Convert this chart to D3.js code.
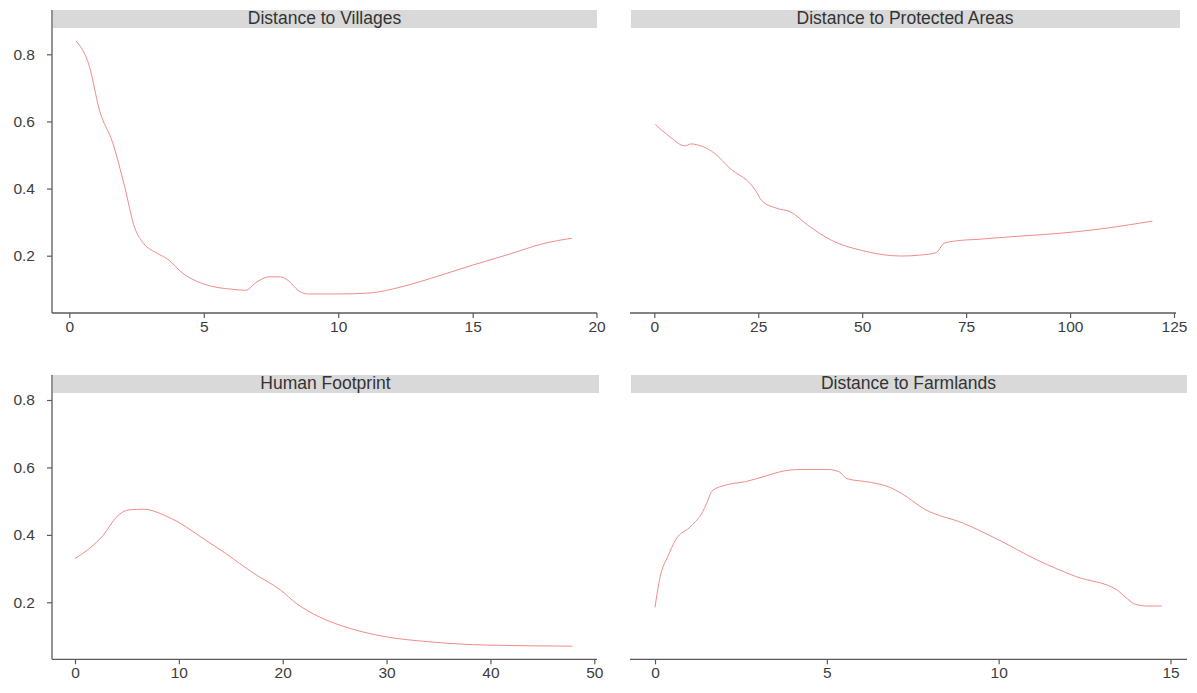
<!DOCTYPE html>
<html><head><meta charset="utf-8">
<script src="https://cdn.jsdelivr.net/npm/d3@7"></script>
<style>body{margin:0;background:#fff}svg{display:block}</style>
</head><body><svg id="c" width="1197" height="693"></svg>
<script>
// ---------- DATA ----------
const panelTitles = ["Distance to Villages", "Distance to Protected Areas", "Human Footprint", "Distance to Farmlands"];

const villagesX = [0.25, 0.75, 1.12, 1.62, 2.06, 2.42, 2.78, 3.2, 3.65, 4.23, 4.95, 6.11, 6.55, 6.98, 7.42, 7.85, 8.2, 8.5, 8.86, 10.02, 11.18, 12.34, 13.78, 15.0, 16.37, 17.96, 19.0];
const villagesY = [0.84, 0.763, 0.634, 0.535, 0.405, 0.286, 0.235, 0.21, 0.19, 0.147, 0.117, 0.0995, 0.097, 0.122, 0.137, 0.137, 0.122, 0.097, 0.086, 0.086, 0.089, 0.107, 0.141, 0.172, 0.202, 0.238, 0.252];

const protectedX = [0.26, 3.25, 7.46, 8.68, 11.67, 14.48, 18.2, 23.4, 24.8, 25.7, 29.5, 32.7, 36.9, 42.6, 50.1, 59.4, 64.1, 67.8, 69.7, 72.5, 78.1, 87.5, 96.8, 106.2, 119.8];
const protectedY = [0.591, 0.559, 0.527, 0.533, 0.525, 0.505, 0.46, 0.41, 0.386, 0.366, 0.341, 0.331, 0.291, 0.246, 0.215, 0.199, 0.202, 0.209, 0.237, 0.244, 0.249, 0.258, 0.266, 0.278, 0.303];

const footprintX = [0, 1.4, 2.72, 4.03, 5.16, 6.66, 8.54, 10.04, 12.3, 14.5, 17.2, 19.8, 21.3, 23.5, 26.55, 29.9, 34.06, 39.7, 47.9];
const footprintY = [0.33, 0.36, 0.399, 0.454, 0.474, 0.476, 0.459, 0.436, 0.39, 0.345, 0.286, 0.236, 0.197, 0.157, 0.122, 0.098, 0.083, 0.073, 0.07];

const farmX = [0, 0.15, 0.37, 0.6, 1.05, 1.39, 1.5, 1.67, 2.07, 2.64, 3.2, 3.77, 4.22, 5.02, 5.36, 5.58, 6.26, 6.83, 7.17, 7.85, 8.98, 10.0, 11.13, 12.26, 13.45, 13.68, 13.96, 14.3, 14.75];
const farmY = [0.185, 0.276, 0.335, 0.385, 0.426, 0.469, 0.493, 0.531, 0.548, 0.558, 0.574, 0.59, 0.594, 0.594, 0.587, 0.567, 0.556, 0.541, 0.523, 0.476, 0.434, 0.385, 0.325, 0.276, 0.236, 0.216, 0.195, 0.189, 0.189];

const yTickValues = [0.2, 0.4, 0.6, 0.8];
const villagesTicks = [0, 5, 10, 15, 20];
const protectedTicks = [0, 25, 50, 75, 100, 125];
const footprintTicks = [0, 10, 20, 30, 40, 50];
const farmTicks = [0, 5, 10, 15];

// ---------- LAYOUT ----------
const panels = [
  {title: panelTitles[0], xs: villagesX, ys: villagesY, ticks: villagesTicks,
   xDom: [0, 15, 20], xRange: [69.3, 472.7, 596.5], yRange: [255.7, 54.3],
   left: 52, right: 597, stripTop: 10, stripBot: 28, axisY: 313, lineStart: 52, lineEnd: 597, showY: true},
  {title: panelTitles[1], xs: protectedX, ys: protectedY, ticks: protectedTicks,
   xDom: [0, 125], xRange: [654.3, 1174], yRange: [255.7, 54.3],
   left: 630, right: 1180, stripTop: 10, stripBot: 28, axisY: 313, lineStart: 630, lineEnd: 1176, showY: false},
  {title: panelTitles[2], xs: footprintX, ys: footprintY, ticks: footprintTicks,
   xDom: [0, 50], xRange: [75, 594.3], yRange: [602.3, 400],
   left: 52, right: 599, stripTop: 375, stripBot: 393, axisY: 659.3, lineStart: 52, lineEnd: 597, showY: true},
  {title: panelTitles[3], xs: farmX, ys: farmY, ticks: farmTicks,
   xDom: [0, 15], xRange: [655, 1170.5], yRange: [602.3, 400],
   left: 630, right: 1187, stripTop: 375, stripBot: 393, axisY: 659.3, lineStart: 630, lineEnd: 1187, showY: false}
];

const svg = d3.select("#c");
svg.append("rect").attr("width", 1197).attr("height", 693).attr("fill", "#fff");

const axisColor = "#5a5a5a";
const labelColor = "#3d3d3d";
const fontFam = "'Liberation Sans', Arial, sans-serif";

panels.forEach(p => {
  const x = d3.scaleLinear().domain(p.xDom).range(p.xRange);
  const y = d3.scaleLinear().domain([0.2, 0.8]).range(p.yRange);
  const g = svg.append("g");

  // strip
  g.append("rect").attr("x", p.left + 1).attr("y", p.stripTop)
    .attr("width", p.right - p.left - 1).attr("height", p.stripBot - p.stripTop)
    .attr("fill", "#d9d9d9");
  g.append("text").attr("x", (p.left + p.right) / 2).attr("y", p.stripBot - 4.5)
    .attr("text-anchor", "middle").attr("font-family", fontFam).attr("font-size", 17.5)
    .attr("fill", "#333").text(p.title);

  // x axis
  const xa = g.append("g").attr("transform", `translate(0,${p.axisY})`)
    .call(d3.axisBottom(x).tickValues(p.ticks).tickFormat(d3.format("d")).tickSize(5).tickPadding(3));
  xa.select(".domain").remove();
  xa.selectAll(".tick line").attr("stroke", axisColor).attr("stroke-width", 1.2);
  xa.selectAll(".tick text").attr("font-family", fontFam).attr("font-size", 15.5).attr("fill", labelColor);
  g.append("line").attr("x1", p.lineStart).attr("x2", p.lineEnd)
    .attr("y1", p.axisY).attr("y2", p.axisY).attr("stroke", axisColor).attr("stroke-width", 1.3);

  // y axis
  if (p.showY) {
    const ya = g.append("g").attr("transform", `translate(${p.left},0)`)
      .call(d3.axisLeft(y).tickValues(yTickValues).tickFormat(d3.format(".1f")).tickSize(5).tickPadding(12));
    ya.select(".domain").remove();
    ya.selectAll(".tick line").attr("stroke", axisColor).attr("stroke-width", 1.2);
    ya.selectAll(".tick text").attr("font-family", fontFam).attr("font-size", 15.5).attr("fill", labelColor);
    g.append("line").attr("x1", p.left).attr("x2", p.left)
      .attr("y1", p.stripTop).attr("y2", p.axisY).attr("stroke", axisColor).attr("stroke-width", 1.3);
  }

  // curve
  const pts = p.xs.map((v, i) => [v, p.ys[i]]);
  g.append("path").datum(pts)
    .attr("d", d3.line().x(d => x(d[0])).y(d => y(d[1])).curve(d3.curveMonotoneX))
    .attr("fill", "none").attr("stroke", "#f28b8b").attr("stroke-width", 1);
});
</script></body></html>
